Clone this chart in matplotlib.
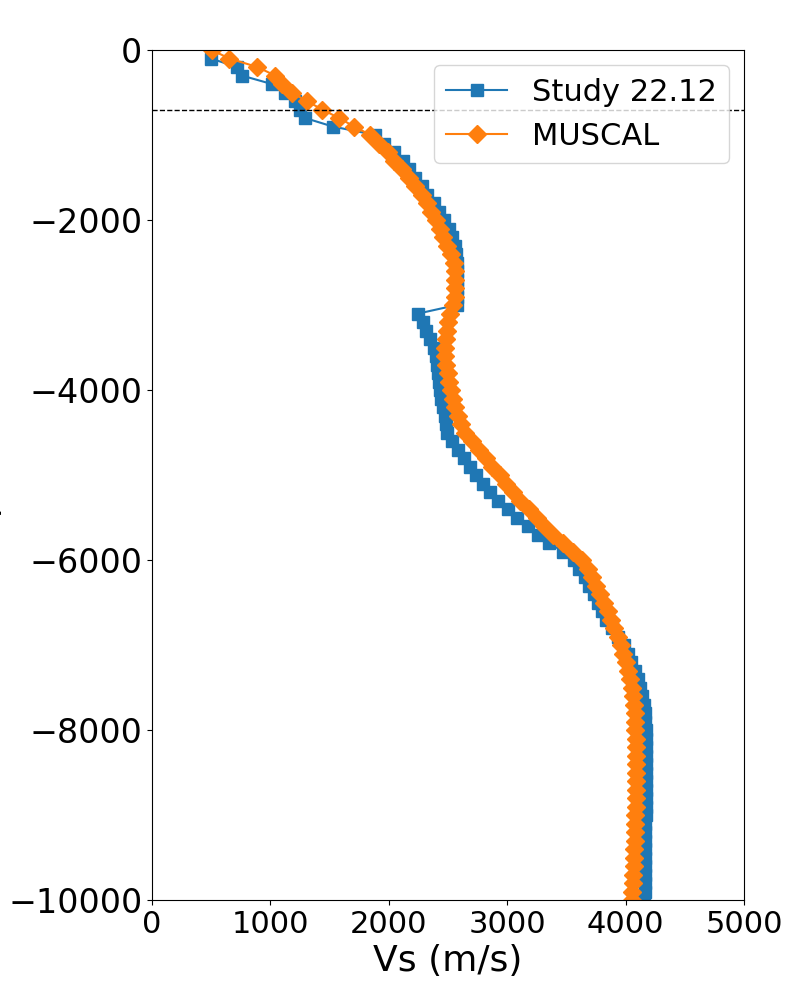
import numpy as np
import matplotlib
matplotlib.use("Agg")
import matplotlib.pyplot as plt

# depth grid (m)
depth_study = np.arange(-100, -10001, -100)
vs_study = [
    498, 715, 757, 1011, 1123, 1208, 1250, 1292, 1526, 1886,
    1962, 2041, 2120, 2168, 2224, 2280, 2322, 2379, 2421, 2464,
    2506, 2534, 2562, 2570, 2575, 2577, 2577, 2577, 2576, 2575,
    2250, 2285, 2318, 2350, 2378, 2396, 2408, 2418, 2425, 2432,
    2445, 2458, 2472, 2486, 2495, 2535, 2585, 2635, 2690, 2740,
    2795, 2855, 2925, 3005, 3085, 3175, 3260, 3355, 3470, 3560,
    3605, 3655, 3695, 3730, 3765, 3800, 3838, 3885, 3935, 3985,
    4020, 4048, 4080, 4105, 4125, 4140, 4155, 4162, 4166, 4170,
    4172, 4172, 4173, 4173, 4173, 4172, 4172, 4172, 4171, 4170,
    4168, 4167, 4166, 4165, 4164, 4163, 4162, 4161, 4160, 4158,
]

depth_muscal = np.arange(0, -10001, -100)
vs_muscal = [
    504, 653, 889, 1039, 1100, 1179, 1306, 1438, 1578, 1708,
    1845, 1915, 1990, 2045, 2115, 2170, 2225, 2280, 2320, 2360,
    2395, 2430, 2460, 2495, 2525, 2548, 2560, 2562, 2562, 2558,
    2545, 2517, 2500, 2489, 2480, 2475, 2478, 2487, 2497, 2510,
    2522, 2540, 2560, 2585, 2612, 2640, 2700, 2760, 2820, 2875,
    2935, 2990, 3050, 3105, 3185, 3250, 3315, 3385, 3475, 3555,
    3635, 3680, 3715, 3750, 3788, 3815, 3848, 3875, 3905, 3935,
    3960, 3980, 4000, 4020, 4038, 4052, 4063, 4070, 4076, 4080,
    4083, 4085, 4087, 4088, 4088, 4088, 4087, 4086, 4085, 4084,
    4082, 4080, 4078, 4076, 4073, 4070, 4067, 4064, 4060, 4056,
    4052,
]

ref_depth = -700

fig, ax = plt.subplots(figsize=(8, 10), dpi=100)
fig.subplots_adjust(left=0.19, right=0.93, top=0.95, bottom=0.10)

ax.plot(vs_study, depth_study, marker="s", markersize=9, label="Study 22.12")
ax.plot(vs_muscal, depth_muscal, marker="D", markersize=9, label="MUSCAL")
ax.axhline(ref_depth, color="k", linestyle="--", linewidth=1)

ax.set_xlim(0, 5000)
ax.set_ylim(-10000, 0)
ax.set_xticks([0, 1000, 2000, 3000, 4000, 5000])
ax.set_yticks([0, -2000, -4000, -6000, -8000, -10000])
ax.tick_params(axis="x", labelsize=22)
ax.tick_params(axis="y", labelsize=24)
ax.set_xlabel("Vs (m/s)", fontsize=26)
ax.set_ylabel("Depth (m)", fontsize=26)
ax.legend(loc="upper right", fontsize=22)

fig.savefig("out.png")
